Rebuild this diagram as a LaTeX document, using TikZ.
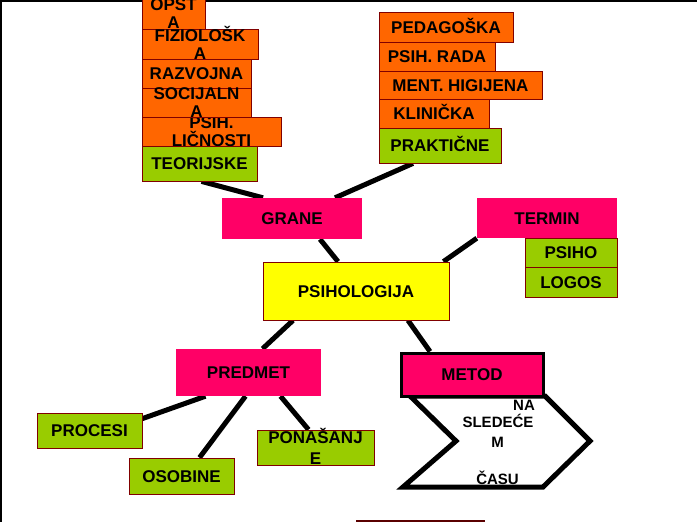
\documentclass[tikz,border=0pt]{standalone}
\usepackage{fontspec}
\setmainfont{Liberation Sans}
\usetikzlibrary{calc}
\pgfdeclarelayer{bottom}
\pgfdeclarelayer{links}
\pgfsetlayers{bottom,links,main}
\definecolor{orng}{HTML}{FF6600}
\definecolor{grn}{HTML}{99CC00}
\definecolor{mag}{HTML}{FF0066}
\definecolor{yel}{HTML}{FFFF00}
\definecolor{edge}{HTML}{800000}
\tikzset{
  txt/.style={inner sep=0pt, font=\bfseries\fontsize{17}{20}\selectfont, text height=12.2pt, text depth=0pt},
  ctxt/.style={inner sep=0pt, font=\bfseries\fontsize{15}{18}\selectfont, text height=10.8pt, text depth=0pt},
  box/.style={txt, rectangle, minimum width=#1},
  obox/.style={box=#1, fill=orng, draw=edge, line width=0.8pt},
  gbox/.style={box=#1, fill=grn, draw=edge, line width=0.8pt},
  mbox/.style={box=#1, fill=mag},
  ybox/.style={box=#1, fill=yel, draw=edge, line width=0.8pt},
  link/.style={line width=5pt, black},
}
\begin{document}
\begin{tikzpicture}[x=1pt, y={(0pt,-1pt)}]
\useasboundingbox (0,0) rectangle (697,522);
\begin{pgfonlayer}{bottom}
\fill[white] (0,0) rectangle (697,522);
\end{pgfonlayer}
% frame lines
\draw[line width=2.5pt, black] (697,1.2) -- (1.2,1.2) -- (1.2,522);
\coordinate (bl1) at (356,521);
\coordinate (bl2) at (485,521);
\draw[line width=1.5pt, edge!70!black] (bl1) -- (bl2);

% left stack
\node[obox=63, minimum height=32] (opsta) at (173.5,13) {};
\node[txt] (opsta1) at (173.5,4) {OPST};
\node[txt] (opsta2) at (173.5,22) {A};
\node[obox=116, minimum height=30] (fiz) at (200,44) {};
\node[txt] (fiz1) at (200,35) {FIZIOLOŠK};
\node[txt] (fiz2) at (200,53) {A};
\node[obox=109, minimum height=29] (raz) at (196.5,73.5) {RAZVOJNA};
\node[obox=139, minimum height=29] (psl) at (211.5,131.5) {};
\node[txt] (psl1) at (211.5,122) {PSIH.};
\node[txt] (psl2) at (211.5,140) {LIČNOSTI};
\node[obox=109, minimum height=29] (soc) at (196.5,102.5) {};
\node[txt] (soc1) at (196.5,93.5) {SOCIJALN};
\node[txt] (soc2) at (196.5,111.5) {A};
\node[gbox=115, minimum height=35] (teor) at (199.5,163.5) {TEORIJSKE};

% right stack
\node[obox=134, minimum height=30] (ped) at (446,27) {PEDAGOŠKA};
\node[obox=116, minimum height=29] (prada) at (437,56.5) {PSIH. RADA};
\node[obox=163, minimum height=28] (ment) at (460.5,85) {MENT. HIGIJENA};
\node[obox=110, minimum height=29] (klin) at (434,113.5) {KLINIČKA};
\node[gbox=122, minimum height=35] (prak) at (440,145.5) {PRAKTIČNE};

% centre
\node[mbox=140, minimum height=41] (grane) at (292,218.5) {GRANE};
\node[mbox=140, minimum height=40] (termin) at (547,218) {TERMIN};
\node[gbox=92, minimum height=29] (psiho) at (571,252.5) {PSIHO};
\node[gbox=92, minimum height=30] (logos) at (571,282) {LOGOS};
\node[ybox=186, minimum height=58] (psih) at (356,291) {PSIHOLOGIJA};

% bottom
\node[mbox=145, minimum height=47] (predmet) at (248.5,372.5) {PREDMET};
\node[gbox=105, minimum height=35] (procesi) at (89.5,430.5) {PROCESI};
\node[gbox=105, minimum height=36] (osobine) at (181.5,476) {OSOBINE};
\node[gbox=117, minimum height=35] (ponas) at (315.5,447.5) {};
\node[txt] (ponas1) at (315.5,437) {PONAŠANJ};
\node[txt] (ponas2) at (315.5,458) {E};

% chevron
\coordinate (c1) at (410,396);
\coordinate (c2) at (545,396);
\coordinate (c3) at (590,441);
\coordinate (c4) at (543,487);
\coordinate (c5) at (403,487);
\coordinate (c6) at (456,441);
\draw[line width=5pt, black, fill=white, line join=miter] (c1) -- (c2) -- (c3) -- (c4) -- (c5) -- (c6) -- cycle;
\node[ctxt] (na) at (524,405) {NA};
\node[ctxt] (sled) at (498,422) {SLEDEĆE};
\node[ctxt] (m) at (497.5,442) {M};
\node[ctxt] (casu) at (497.5,479) {ČASU};
\node[box=142, minimum height=43, fill=mag, draw=black, line width=3pt] (metod) at (472,374.5) {METOD};

% connectors (behind boxes)
\begin{pgfonlayer}{links}
\draw[link] ($(teor.south)+(2,0)$) -- ($(grane.north)+(-29,0)$);
\draw[link] ($(prak.south)+(-27,0)$) -- ($(grane.north)+(43,0)$);
\draw[link] ($(grane.south)+(28,0)$) -- ($(psih.north)+(-18,0)$);
\draw[link] ($(termin.south west)+(0,0)$) -- ($(psih.north east)+(-6,0)$);
\draw[link] ($(psih.south)+(-63,0)$) -- ($(predmet.north)+(14,0)$);
\draw[link] ($(psih.south)+(52,0)$) -- ($(metod.north)+(-42,0)$);
\draw[link] ($(predmet.south)+(-43,0)$) -- ($(procesi.north east)+(0,6)$);
\draw[link] ($(predmet.south)+(-3,0)$) -- ($(osobine.north)+(18,0)$);
\draw[link] ($(predmet.south)+(32,0)$) -- ($(ponas.north)+(-7,0)$);
\end{pgfonlayer}
\end{tikzpicture}
\end{document}
